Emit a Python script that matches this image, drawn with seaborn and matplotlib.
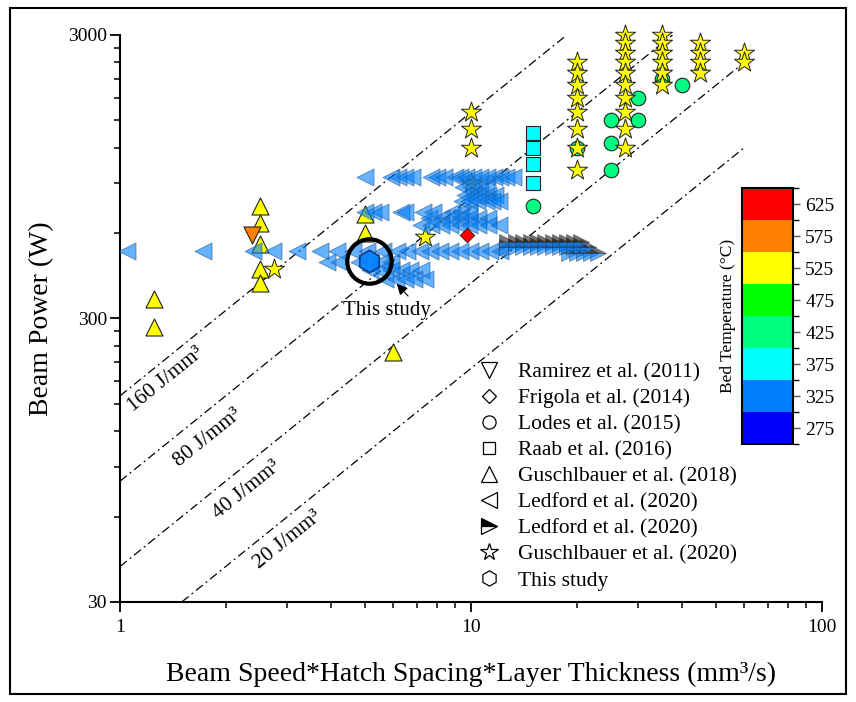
import matplotlib as mpl
import matplotlib.pyplot as plt
from matplotlib.colors import ListedColormap, BoundaryNorm
from matplotlib.lines import Line2D
from matplotlib.patches import Rectangle
from matplotlib.ticker import FixedLocator, LogLocator, NullFormatter
import numpy as np
import seaborn as sns

# bed temperature colour scale (discrete, 50 C bins)
temp_bounds = [250, 300, 350, 400, 450, 500, 550, 600, 650]
temp_ticks = [275, 325, 375, 425, 475, 525, 575, 625]
temp_colors = ['#0000ff', '#0080ff', '#00ffff', '#00ff80',
               '#00ff00', '#ffff00', '#ff8000', '#ff0000']

# energy density guide lines (J/mm3)
energy_levels = [160, 80, 40, 20]
energy_label_x = [1.35, 1.78, 2.30, 3.01]
energy_label_y = [182, 114, 74.5, 49.6]

# Ramirez et al. (2011)
ramirez_x = [2.38]
ramirez_y = [590]
ramirez_t = 575

# Frigola et al. (2014)
frigola_x = [9.74]
frigola_y = [590]
frigola_t = 625

# Lodes et al. (2015)
lodes_x = [15, 20, 25, 25, 25, 30, 30, 35, 40]
lodes_y = [750, 1200, 1500, 1250, 1000, 1800, 1500, 2100, 2000]
lodes_t = 425

# Raab et al. (2016)
raab_x = [15, 15, 15, 15]
raab_y = [1350, 1200, 1050, 900]
raab_t = 375

# Guschlbauer et al. (2018)
gus18_x = [1.25, 1.25, 2.5, 2.5, 2.5, 2.5, 2.5, 5, 5, 6]
gus18_y = [350, 280, 750, 650, 550, 450, 400, 700, 600, 228]
gus18_t = 525

# Ledford et al. (2020), open markers: one list of speeds per power level
ledford_power = [950, 870, 820, 780, 715, 680, 640, 520, 475, 445, 415]
ledford_speed = [
    [5.0, 5.9, 6.2, 6.5, 6.8, 7.7, 8.0, 8.4, 9.0, 9.3, 9.7, 10.1, 10.6,
     11.1, 11.6, 12.1, 12.6, 13.2],
    [9.5, 10.0, 10.5, 11.0],
    [9.6, 10.1, 10.6, 11.2, 11.7],
    [9.4, 9.9, 10.4, 11.0, 11.5, 12.0],
    [5.0, 5.25, 5.5, 6.3, 6.5, 7.3, 7.8, 8.8, 9.3, 9.9],
    [7.6, 8.2, 8.7, 9.3, 9.9, 10.5, 11.2],
    [7.2, 7.7, 8.2, 8.7, 9.3, 9.9, 10.5, 11.2, 12.0],
    [1.05, 1.72, 2.4, 2.72, 3.2, 3.71, 4.15, 4.6, 5.05, 5.6, 6.16, 6.56,
     7.16, 7.66, 8.17, 8.72, 9.31, 9.94, 10.6, 11.3, 12.1],
    [3.9, 4.2, 4.8, 5.15, 5.5, 5.9],
    [5.15, 5.5, 5.9, 6.3, 6.7, 7.2],
    [5.7, 6.1, 6.5, 6.9, 7.4],
]
ledford_t = 325

# Ledford et al. (2020), half filled markers
ledford2_power = [560, 535, 510]
ledford2_speed = [
    [12.7, 13.4, 14.1, 14.8, 15.5, 16.3, 17.1, 17.9, 18.8, 19.7, 20.6],
    [12.7, 13.4, 14.1, 14.8, 15.5, 16.3, 17.1, 17.9, 18.8, 19.7, 20.6, 21.5],
    [19.0, 20.0, 21.0, 22.0, 23.0],
]
ledford2_t = 325

# Guschlbauer et al. (2020)
gus20_x = [2.75, 7.4, 10, 10, 10, 10,
           20, 20, 20, 20, 20, 20, 20, 20,
           27.5, 27.5, 27.5, 27.5, 27.5, 27.5, 27.5, 27.5, 27.5, 27.5,
           35, 35, 35, 35, 35, 35,
           45, 45, 45, 45,
           60, 60]
gus20_y = [450, 580, 1600, 1400, 1200, 900,
           2400, 2200, 2000, 1800, 1600, 1400, 1200, 1000,
           3000, 2800, 2600, 2400, 2200, 2000, 1800, 1600, 1400, 1200,
           3000, 2800, 2600, 2400, 2200, 2000,
           2800, 2600, 2400, 2200,
           2600, 2400]
gus20_t = 525

# This study
this_x = [5.12]
this_y = [480]
this_t = 325

legend_labels = ['Ramirez et al. (2011)', 'Frigola et al. (2014)',
                 'Lodes et al. (2015)', 'Raab et al. (2016)',
                 'Guschlbauer et al. (2018)', 'Ledford et al. (2020)',
                 'Ledford et al. (2020)', 'Guschlbauer et al. (2020)',
                 'This study']


def temp_color(t):
    return temp_colors[int(np.searchsorted(temp_bounds, t, side='right')) - 1]


sns.set_theme(style='ticks')
plt.rcParams['font.family'] = ['Liberation Serif', 'DejaVu Serif']
plt.rcParams['text.color'] = 'black'
plt.rcParams['axes.labelcolor'] = 'black'
plt.rcParams['xtick.color'] = 'black'
plt.rcParams['ytick.color'] = 'black'

fig = plt.figure(figsize=(8.56, 7.02), dpi=100)
ax = fig.add_axes([0.1402, 0.1425, 0.8201, 0.8077])

# guide lines
for e, lx, ly in zip(energy_levels, energy_label_x, energy_label_y):
    v = np.logspace(np.log10(max(1, 30 / e)), np.log10(min(60, 3000 / e)), 50)
    ax.plot(v, e * v, color='black', lw=0.9, dashes=(7, 3, 1.5, 3), zorder=1)
    ax.text(lx, ly, f'{e} J/mm³', rotation=39, rotation_mode='anchor',
            ha='center', va='center', fontsize=15.5)

edge = '#222222'
sns.scatterplot(x=gus18_x, y=gus18_y, marker='^', s=150,
                color=temp_color(gus18_t), edgecolor=edge, linewidth=0.8,
                ax=ax, zorder=3, legend=False)
sns.scatterplot(x=ramirez_x, y=ramirez_y, marker='v', s=150,
                color=temp_color(ramirez_t), edgecolor=edge, linewidth=0.8,
                ax=ax, zorder=3, legend=False)
sns.scatterplot(x=lodes_x, y=lodes_y, marker='o', s=110,
                color=temp_color(lodes_t), edgecolor=edge, linewidth=0.8,
                ax=ax, zorder=3, legend=False)
sns.scatterplot(x=raab_x, y=raab_y, marker='s', s=90,
                color=temp_color(raab_t), edgecolor=edge, linewidth=0.8,
                ax=ax, zorder=3, legend=False)
sns.scatterplot(x=gus20_x, y=gus20_y, marker='*', s=230,
                color=temp_color(gus20_t), edgecolor=edge,
                linewidth=0.7, ax=ax, zorder=3.5, legend=False)
ax.collections[-1].set_clip_on(False)

lx = [x for row in ledford_speed for x in row]
ly = [p for p, row in zip(ledford_power, ledford_speed) for _ in row]
sns.scatterplot(x=lx, y=ly, marker='<', s=150, color=temp_color(ledford_t),
                alpha=0.6, edgecolor='#2a5f95', linewidth=0.7,
                ax=ax, zorder=4, legend=False)

l2x = [x for row in ledford2_speed for x in row]
l2y = [p for p, row in zip(ledford2_power, ledford2_speed) for _ in row]
ax.plot(l2x, l2y, ls='none', marker='>', ms=11, fillstyle='top',
        mfc='#1a1a1a', mfcalt=temp_color(ledford2_t), mec='#333333', mew=0.5,
        alpha=0.6, zorder=4)

sns.scatterplot(x=frigola_x, y=frigola_y, marker='D', s=55,
                color=temp_color(frigola_t), edgecolor=edge, linewidth=0.6,
                ax=ax, zorder=5, legend=False)
sns.scatterplot(x=this_x, y=this_y, marker='h', s=260,
                color=temp_color(this_t), edgecolor='#0a2a66', linewidth=1.2,
                alpha=0.85, ax=ax, zorder=5, legend=False)

# highlight circle and label for this study
ax.plot(this_x, this_y, ls='none', marker='o', ms=32, mfc='none',
        mec='black', mew=3, zorder=6)
ax.text(5.77, 321, 'This study', ha='center', va='center', fontsize=15,
        zorder=6)
ax.annotate('', xy=(6.07, 404), xytext=(6.7, 354),
            arrowprops=dict(arrowstyle='-|>', color='black', lw=0.8,
                            mutation_scale=16), zorder=6)

ax.set_xscale('log')
ax.set_yscale('log')
ax.set_xlim(1, 100)
ax.set_ylim(30, 3000)
ax.set_xticks([1, 10, 100])
ax.set_xticklabels(['1', '10', '100'])
ax.set_yticks([30, 300, 3000])
ax.set_yticklabels(['30', '300', '3000'])
ax.xaxis.set_minor_locator(LogLocator(base=10, subs=range(2, 10)))
ax.xaxis.set_minor_formatter(NullFormatter())
ax.yaxis.set_minor_locator(FixedLocator(list(range(60, 300, 30)) +
                                        list(range(600, 3000, 300))))
ax.yaxis.set_minor_formatter(NullFormatter())
ax.tick_params(which='major', direction='out', length=7, width=1.3,
               labelsize=14, pad=2.5)
ax.tick_params(axis='x', which='major', pad=5)
ax.tick_params(which='minor', direction='out', length=4, width=1.1)
sns.despine(ax=ax)
for side in ['left', 'bottom']:
    ax.spines[side].set_linewidth(1.5)
    ax.spines[side].set_color('black')
ax.set_facecolor('white')

ax.set_xlabel('Beam Speed*Hatch Spacing*Layer Thickness (mm³/s)', fontsize=20)
ax.set_ylabel('Beam Power (W)', fontsize=20)
ax.xaxis.set_label_coords(0.5, -0.105)
ax.yaxis.set_label_coords(-0.094, 0.5)

# legend with open markers
markers = ['v', 'D', 'o', 's', '^', '<', '>', '*', 'h']
sizes = [12, 7, 9.5, 8.5, 12, 12, 12, 13, 11]
handles = []
for m, ms in zip(markers, sizes):
    if m == '>':
        handles.append(Line2D([], [], ls='none', marker=m, ms=ms,
                              fillstyle='top', mfc='black', mfcalt='white',
                              mec='black', mew=0.9))
    else:
        handles.append(Line2D([], [], ls='none', marker=m, ms=ms,
                              mfc='white', mec='black', mew=0.9))
ax.legend(handles, legend_labels, loc='upper left',
          bbox_to_anchor=(476 / 856, 1 - 362 / 702),
          bbox_transform=fig.transFigure, frameon=False, fontsize=15.5,
          handlelength=1.2, handletextpad=0.75, labelspacing=0.28,
          borderpad=0, borderaxespad=0)

# colorbar
cax = fig.add_axes([0.8665, 0.3675, 0.0603, 0.3642])
cmap = ListedColormap(temp_colors)
norm = BoundaryNorm(temp_bounds, cmap.N)
cb = fig.colorbar(mpl.cm.ScalarMappable(norm=norm, cmap=cmap), cax=cax,
                  ticks=temp_ticks)
cb.outline.set_linewidth(1.5)
cb.outline.set_edgecolor('black')
cax.tick_params(length=5, width=1, color='#555555', labelsize=14,
                labelcolor='black', direction='out')
cb.set_label('Bed Temperature (°C)', fontsize=12.5, labelpad=4)
cax.yaxis.set_label_position('left')

# frame round the whole figure
fig.patches.append(Rectangle((10 / 856, 8 / 702), 836 / 856, 686 / 702,
                             transform=fig.transFigure, fill=False,
                             lw=1.5, ec='black'))

fig.savefig('out.png', dpi=100)
